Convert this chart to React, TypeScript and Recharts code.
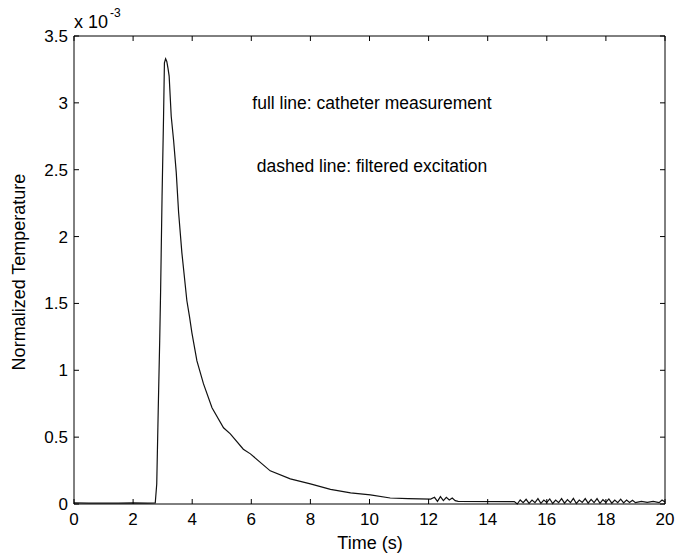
import { LineChart, Line, XAxis, YAxis } from 'recharts';

// time axis (s)
const timeTicks = [0, 2, 4, 6, 8, 10, 12, 14, 16, 18, 20];
// normalized temperature, in units of 1e-3
const tempTicks = [0, 0.5, 1, 1.5, 2, 2.5, 3, 3.5];

const times = [
    0, 0.5, 1, 1.5, 2, 2.5, 2.75, 2.8, 2.85, 2.9, 2.93, 2.98, 3.03, 3.06, 3.1, 3.14, 3.18, 3.22, 3.29,
    3.37, 3.46, 3.54, 3.65, 3.82, 3.91, 3.99, 4.16, 4.38, 4.67, 5.06, 5.29, 5.73, 5.97, 6.64, 7.32,
    8.0, 8.68, 9.36, 10.03, 10.7, 11.3, 12.07, 12.2, 12.3, 12.4, 12.5, 12.6, 12.7, 12.8, 12.9, 13.0,
    14.9, 15.0, 15.1, 15.2, 15.3, 15.4, 15.5, 15.6, 15.7, 15.8, 15.9, 16.0, 16.1, 16.2, 16.3, 16.4,
    16.5, 16.6, 16.7, 16.8, 16.9, 17.0, 17.1, 17.2, 17.3, 17.4, 17.5, 17.6, 17.7, 17.8, 17.9, 18.0,
    18.1, 18.2, 18.3, 18.4, 18.5, 18.6, 18.7, 18.8, 18.9, 19.0, 19.2, 19.4, 19.6, 19.8, 19.9, 20.0
];

const catheter = [
    0.008, 0.006, 0.007, 0.006, 0.008, 0.007, 0.008, 0.15, 0.7, 1.22, 1.58, 2.3, 2.89, 3.3, 3.33, 3.31, 3.26, 3.2, 2.9,
    2.72, 2.48, 2.18, 1.88, 1.52, 1.4, 1.28, 1.07, 0.9, 0.72, 0.57, 0.525, 0.41, 0.375, 0.248, 0.188,
    0.15, 0.11, 0.083, 0.068, 0.045, 0.04, 0.037, 0.05, 0.02, 0.055, 0.025, 0.05, 0.03, 0.045, 0.025, 0.02,
    0.018, 0.0, 0.03, 0.01, 0.035, 0.005, 0.03, 0.01, 0.04, 0.005, 0.03, 0.012, 0.038, 0.004, 0.03, 0.01,
    0.04, 0.006, 0.033, 0.01, 0.042, 0.004, 0.03, 0.012, 0.04, 0.006, 0.035, 0.01, 0.04, 0.005, 0.032, 0.012,
    0.038, 0.006, 0.03, 0.01, 0.036, 0.008, 0.03, 0.012, 0.028, 0.01, 0.02, 0.012, 0.02, 0.01, 0.03, 0.015
];

const data = times.map((t, i) => ({ t, v: catheter[i] }));

const FONT = '"Liberation Sans", Arial, Helvetica, sans-serif';
const TICK_LEN = 5;

const BottomTick = (props: any) => {
    const { x, y, payload } = props;
    return (
        <g>
            <line x1={x} y1={y} x2={x} y2={y - TICK_LEN} stroke="#000" />
            <text x={x} y={y + 21} textAnchor="middle" fontSize={17} fontFamily={FONT} fill="#000">
                {payload.value}
            </text>
        </g>
    );
};

const TopTick = (props: any) => {
    const { x, y } = props;
    return <line x1={x} y1={y} x2={x} y2={y + TICK_LEN} stroke="#000" />;
};

const LeftTick = (props: any) => {
    const { x, y, payload } = props;
    return (
        <g>
            <line x1={x} y1={y} x2={x + TICK_LEN} y2={y} stroke="#000" />
            <text x={x - 6} y={y + 6} textAnchor="end" fontSize={17} fontFamily={FONT} fill="#000">
                {payload.value}
            </text>
        </g>
    );
};

const RightTick = (props: any) => {
    const { x, y } = props;
    return <line x1={x} y1={y} x2={x - TICK_LEN} y2={y} stroke="#000" />;
};

export default function App() {
    return (
        <div style={{ position: 'absolute', left: 0, top: 0, width: 676, height: 556, background: '#fff' }}>
            <LineChart width={676} height={556} data={data} margin={{ top: 35, right: 10, bottom: 0, left: 0 }}>
                <XAxis
                    dataKey="t"
                    type="number"
                    domain={[0, 20]}
                    ticks={timeTicks}
                    height={52}
                    tickSize={0}
                    tickMargin={0}
                    tickLine={false}
                    axisLine={{ stroke: '#000' }}
                    tick={BottomTick}
                    interval={0}
                />
                <XAxis
                    xAxisId="top"
                    dataKey="t"
                    orientation="top"
                    type="number"
                    domain={[0, 20]}
                    ticks={timeTicks}
                    height={1}
                    tickSize={0}
                    tickMargin={0}
                    tickLine={false}
                    axisLine={{ stroke: '#000' }}
                    tick={TopTick}
                    interval={0}
                />
                <YAxis
                    type="number"
                    domain={[0, 3.5]}
                    ticks={tempTicks}
                    width={74}
                    tickSize={0}
                    tickMargin={0}
                    tickLine={false}
                    axisLine={{ stroke: '#000' }}
                    tick={LeftTick}
                    interval={0}
                />
                <YAxis
                    yAxisId="right"
                    orientation="right"
                    type="number"
                    domain={[0, 3.5]}
                    ticks={tempTicks}
                    width={1}
                    tickSize={0}
                    tickMargin={0}
                    tickLine={false}
                    axisLine={{ stroke: '#000' }}
                    tick={RightTick}
                    interval={0}
                />
                {/* invisible copy so the top/right frame axes get drawn */}
                <Line
                    xAxisId="top"
                    yAxisId="right"
                    type="linear"
                    dataKey="v"
                    stroke="none"
                    dot={false}
                    isAnimationActive={false}
                />
                <Line
                    type="linear"
                    dataKey="v"
                    stroke="#111"
                    strokeWidth={1.2}
                    dot={false}
                    isAnimationActive={false}
                />
            </LineChart>
            <svg
                width={676}
                height={556}
                style={{ position: 'absolute', left: 0, top: 0, pointerEvents: 'none' }}
                fontFamily={FONT}
            >
                <text x={74} y={28} fontSize={18} fill="#000">x 10</text>
                <text x={110} y={17} fontSize={12} fill="#000">-3</text>
                <text x={372} y={109} textAnchor="middle" fontSize={17.5} fill="#000">
                    full line: catheter measurement
                </text>
                <text x={372} y={172} textAnchor="middle" fontSize={17.5} fill="#000">
                    dashed line: filtered excitation
                </text>
                <text x={370} y={549} textAnchor="middle" fontSize={18} fill="#000">Time (s)</text>
                <text
                    x={25}
                    y={272}
                    textAnchor="middle"
                    fontSize={18}
                    fill="#000"
                    transform="rotate(-90 25 272)"
                >
                    Normalized Temperature
                </text>
            </svg>
        </div>
    );
}
